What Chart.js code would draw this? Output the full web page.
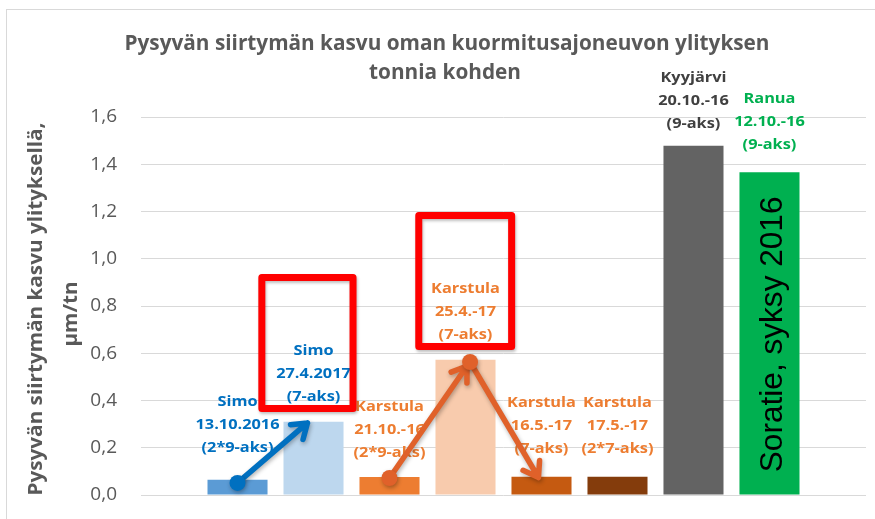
<!DOCTYPE html>
<html>
<head>
<meta charset="utf-8">
<script src="https://cdn.jsdelivr.net/npm/chart.js@4"></script>
<style>
  html, body { margin: 0; padding: 0; background: #fff; }
  #wrap { width: 875px; height: 519px; }
</style>
</head>
<body>
<div id="wrap"><canvas id="kasvuChart" width="875" height="519"></canvas></div>
<script>
// data
const categories = ['Simo 13.10.2016', 'Simo 27.4.2017', 'Karstula 21.10.-16', 'Karstula 25.4.-17',
                    'Karstula 16.5.-17', 'Karstula 17.5.-17', 'Kyyjärvi 20.10.-16', 'Ranua 12.10.-16'];
const values = [0.065, 0.31, 0.076, 0.572, 0.077, 0.077, 1.478, 1.366];
const barColors = ['#5B9BD5', '#BDD7EE', '#ED7D31', '#F8CBAD', '#C55A11', '#843C0C', '#636363', '#00B050'];
const labelLines = [
  ['Simo', '13.10.2016', '(2*9-aks)'],
  ['Simo', '27.4.2017', '(7-aks)'],
  ['Karstula', '21.10.-16', '(2*9-aks)'],
  ['Karstula', '25.4.-17', '(7-aks)'],
  ['Karstula', '16.5.-17', '(7-aks)'],
  ['Karstula', '17.5.-17', '(2*7-aks)'],
  ['Kyyjärvi', '20.10.-16', '(9-aks)'],
  ['Ranua', '12.10.-16', '(9-aks)']
];
const labelColors = ['#0070C0', '#0070C0', '#ED7D31', '#ED7D31', '#ED7D31', '#ED7D31', '#404040', '#00B050'];
// value at which the first label line sits
const labelY = [0.394, 0.61, 0.372, 0.872, 0.389, 0.389, 1.765, 1.676];
const yTicks = [0, 0.2, 0.4, 0.6, 0.8, 1.0, 1.2, 1.4, 1.6];

const titleLines = ['Pysyvän siirtymän kasvu oman kuormitusajoneuvon ylityksen', 'tonnia kohden'];
const yTitleLines = ['Pysyvän siirtymän kasvu ylityksellä,', 'µm/tn'];

// highlight boxes and arrows, in axis units
const redBoxes = [
  { x1: 0.32, x2: 1.52, y1: 0.366, y2: 0.921 },
  { x1: 2.385, x2: 3.607, y1: 0.629, y2: 1.183 }
];
const arrows = [
  { from: [0, 0.051], to: [0.92, 0.305], color: '#0070C0', dot: true },
  { from: [2.0, 0.072], to: [3.02, 0.546], color: '#E0612A', dot: true },
  { from: [3.06, 0.563], to: [3.96, 0.074], color: '#E0612A', dot: true }
];

function condensed(ctx, text, x, y, sx) {
  ctx.save();
  ctx.translate(x, y);
  ctx.scale(sx, 1);
  ctx.fillText(text, 0, 0);
  ctx.restore();
}

const decor = {
  id: 'decor',
  beforeDraw(chart) {
    const ctx = chart.ctx;
    ctx.save();
    ctx.fillStyle = '#fff';
    ctx.fillRect(0, 0, chart.width, chart.height);
    ctx.strokeStyle = '#D9D9D9';
    ctx.lineWidth = 1;
    ctx.strokeRect(6.5, 9.5, 900, 600);

    // chart title
    ctx.fillStyle = '#595959';
    ctx.textAlign = 'center';
    ctx.textBaseline = 'middle';
    ctx.font = 'bold 21px "Open Sans"';
    const ts = 645 / ctx.measureText(titleLines[0]).width;
    condensed(ctx, titleLines[0], 447, 44, ts);
    condensed(ctx, titleLines[1], 445, 73, ts);

    // y axis title
    ctx.font = 'bold 19px "Open Sans"';
    const ys = 373 / ctx.measureText(yTitleLines[0]).width;
    ctx.save();
    ctx.translate(37, 309);
    ctx.rotate(-Math.PI / 2);
    condensed(ctx, yTitleLines[0], 0, 0, ys);
    ctx.restore();
    ctx.save();
    ctx.translate(72, 314);
    ctx.rotate(-Math.PI / 2);
    condensed(ctx, yTitleLines[1], 0, 0, ys);
    ctx.restore();
    ctx.restore();
  },
  afterDatasetsDraw(chart) {
    const ctx = chart.ctx;
    const xs = chart.scales.x, yS = chart.scales.y;
    const px = v => xs.getPixelForValue(v);
    const py = v => yS.getPixelForValue(v);

    ctx.save();
    // rotated text inside the green bar
    ctx.fillStyle = '#000';
    ctx.textAlign = 'center';
    ctx.textBaseline = 'middle';
    ctx.font = '33px "Liberation Sans", Arial';
    const sw = ctx.measureText('Soratie, syksy 2016').width;
    ctx.font = (33 * 276 / sw).toFixed(1) + 'px "Liberation Sans", Arial';
    ctx.translate(px(7) + 4, py(0.68));
    ctx.rotate(-Math.PI / 2);
    ctx.fillText('Soratie, syksy 2016', 0, 0);
    ctx.restore();

    // bar labels
    ctx.save();
    ctx.textAlign = 'center';
    ctx.textBaseline = 'middle';
    ctx.font = 'bold 15px "Open Sans"';
    const ls = 84 / ctx.measureText('13.10.2016').width;
    labelLines.forEach((lines, i) => {
      ctx.fillStyle = labelColors[i];
      const y0 = py(labelY[i]);
      lines.forEach((t, k) => condensed(ctx, t, px(i), y0 + k * 23, ls));
    });
    ctx.restore();

    // red boxes
    ctx.save();
    ctx.strokeStyle = '#FF0000';
    ctx.lineWidth = 7;
    ctx.lineJoin = 'round';
    ctx.shadowColor = 'rgba(0,0,0,0.25)';
    ctx.shadowBlur = 3;
    ctx.shadowOffsetX = 1;
    ctx.shadowOffsetY = 2;
    redBoxes.forEach(b => {
      const x1 = px(b.x1), x2 = px(b.x2), y1 = py(b.y2), y2 = py(b.y1);
      ctx.strokeRect(x1, y1, x2 - x1, y2 - y1);
    });
    ctx.restore();

    // arrows
    ctx.save();
    ctx.lineCap = 'round';
    ctx.lineJoin = 'round';
    ctx.shadowColor = 'rgba(0,0,0,0.3)';
    ctx.shadowBlur = 4;
    ctx.shadowOffsetX = 1;
    ctx.shadowOffsetY = 2;
    arrows.forEach(a => {
      const x1 = px(a.from[0]), y1 = py(a.from[1]);
      const x2 = px(a.to[0]), y2 = py(a.to[1]);
      const ang = Math.atan2(y2 - y1, x2 - x1);
      ctx.strokeStyle = a.color;
      ctx.fillStyle = a.color;
      ctx.lineWidth = 5.5;
      ctx.beginPath();
      ctx.moveTo(x1, y1);
      ctx.lineTo(x2, y2);
      const L = 17, w = 0.6;
      ctx.moveTo(x2 - L * Math.cos(ang - w), y2 - L * Math.sin(ang - w));
      ctx.lineTo(x2, y2);
      ctx.lineTo(x2 - L * Math.cos(ang + w), y2 - L * Math.sin(ang + w));
      ctx.stroke();
      if (a.dot) {
        ctx.beginPath();
        ctx.arc(x1, y1, 8, 0, Math.PI * 2);
        ctx.fill();
      }
    });
    ctx.restore();
  }
};

const ctx = document.getElementById('kasvuChart').getContext('2d');
new Chart(ctx, {
  type: 'bar',
  data: {
    datasets: [{
      label: 'Kasvu',
      data: values.map((v, i) => ({ x: i, y: v })),
      backgroundColor: barColors,
      borderWidth: 0,
      barPercentage: 0.79,
      categoryPercentage: 1.0
    }]
  },
  options: {
    responsive: false,
    animation: false,
    devicePixelRatio: 1,
    layout: { padding: { top: 117, right: 9, bottom: 24, left: 0 } },
    plugins: {
      legend: { display: false },
      tooltip: { enabled: false },
      title: { display: false }
    },
    scales: {
      x: {
        type: 'linear',
        display: false,
        offset: false,
        min: -1.27,
        max: 8.27
      },
      y: {
        min: 0,
        max: 1.6,
        afterFit(scale) {
          scale.width = 141;
          scale.paddingTop = 0;
          scale.paddingBottom = 0;
        },
        border: { display: false },
        grid: {
          drawTicks: false,
          lineWidth: 1,
          color: c => (Math.round(c.tick.value * 10) % 2 === 0 ? '#D9D9D9' : '#F0F0F0')
        },
        ticks: {
          stepSize: 0.1,
          padding: 24,
          color: '#595959',
          font: { family: 'Open Sans', size: 19 },
          callback: v => {
            const t = yTicks.find(k => Math.abs(k - v) < 1e-6);
            return t === undefined ? '' : t.toFixed(1).replace('.', ',');
          }
        }
      }
    }
  },
  plugins: [decor]
});
</script>
</body>
</html>
